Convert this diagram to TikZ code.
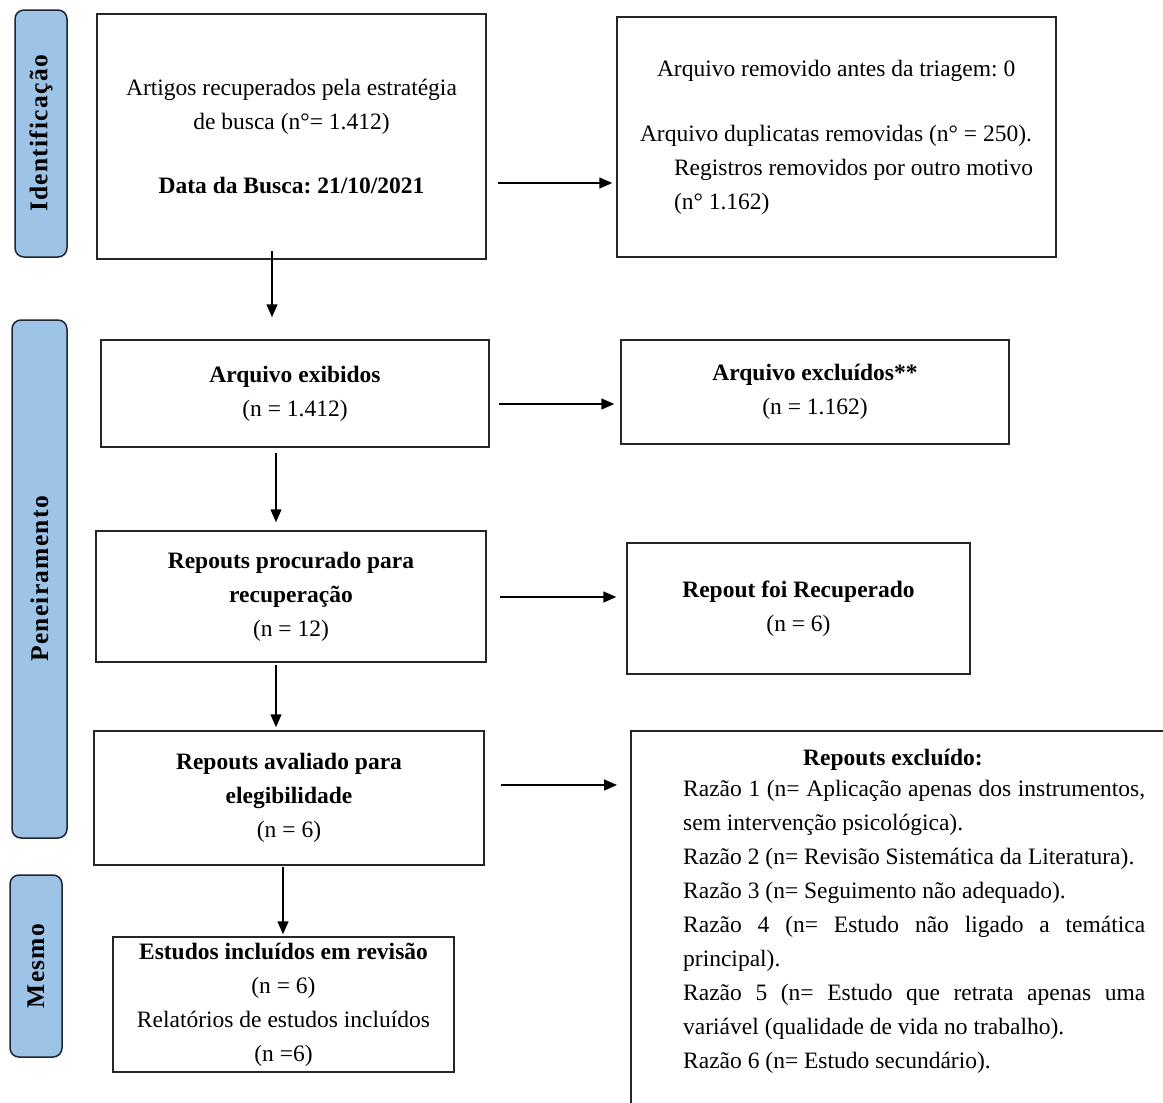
\documentclass[tikz,border=0pt]{standalone}
\usepackage{fontspec}
\setmainfont{Liberation Serif}
\newfontfamily\sidefont[LetterSpace=5]{Liberation Serif}
\usetikzlibrary{arrows.meta}
\definecolor{sidefill}{HTML}{9DC3E6}
\definecolor{sidedraw}{HTML}{1E2633}
\frenchspacing
\tikzset{
  every node/.style={font=\fontsize{23.5}{34}\selectfont, inner sep=0pt},
  box/.style={draw=black!85, line width=1.5pt, align=center},
  side/.style={draw=sidedraw, fill=sidefill, line width=1.5pt, rounded corners=9pt},
  sidetxt/.style={rotate=90, font=\sidefont\fontsize{25.5}{30}\selectfont\bfseries},
  arr/.style={line width=1.5pt, -{Triangle[length=13pt,width=11pt]}}
}
\begin{document}
\begin{tikzpicture}[x=1pt,y=-1pt]
\useasboundingbox (0,0) rectangle (1163,1103);
\clip (0,0) rectangle (1163,1103);
\fill[white] (0,0) rectangle (1163,1103);

% side labels
\node[side, minimum width=52pt, minimum height=247pt] (s1) at (41,133.5) {};
\node[sidetxt] (s1t) at (s1) {Identificação};
\node[side, minimum width=55pt, minimum height=518pt] (s2) at (39.5,579) {};
\node[sidetxt] (s2t) at (s2) {Peneiramento};
\node[side, minimum width=52pt, minimum height=182pt] (s3) at (36,966) {};
\node[sidetxt] (s3t) at (s3) {Mesmo};

% left column
\node[box, minimum width=389pt, minimum height=245pt] (b1) at (291.5,136.5)
  {Artigos recuperados pela estratégia\\ de busca (n°= 1.412)\\[30pt] \textbf{Data da Busca: 21/10/2021}};
\node[box, minimum width=388pt, minimum height=107pt] (b2) at (295,393.5)
  {\textbf{Arquivo exibidos}\\ (n = 1.412)};
\node[box, minimum width=390pt, minimum height=131pt] (b3) at (291,596.5)
  {\textbf{Repouts procurado para}\\ \textbf{recuperação}\\ (n = 12)};
\node[box, minimum width=390pt, minimum height=134pt] (b4) at (289,798)
  {\textbf{Repouts avaliado para}\\ \textbf{elegibilidade}\\ (n = 6)};
\node[box, minimum width=341pt, minimum height=135pt] (b5) at (283.5,1004.5)
  {\textbf{Estudos incluídos em revisão}\\ (n = 6)\\ Relatórios de estudos incluídos\\ (n =6)};

% right column
\node[box, align=left, minimum width=439pt, minimum height=240pt] (r1) at (836.5,137)
  {\hspace*{17pt}Arquivo removido antes da triagem: 0\\[31pt]
   Arquivo duplicatas removidas (n° = 250).\\
   \hspace*{34pt}Registros removidos por outro motivo\\
   \hspace*{34pt}(n° 1.162)};
\node[box, minimum width=388pt, minimum height=104pt] (r2) at (815,392)
  {\textbf{Arquivo excluídos**}\\ (n = 1.162)};
\node[box, minimum width=343pt, minimum height=131pt] (r3) at (798.5,608.5)
  {\textbf{Repout foi Recuperado}\\ (n = 6)};
\node[box, anchor=north west, minimum width=545pt, minimum height=385pt] (r4) at (630,730) {};
\node[font=\fontsize{23.5}{34}\selectfont\bfseries] (r4t) at (893,760) {Repouts excluído:};
\node[anchor=north west, align=left] (r4l) at (683,780)
  {\makebox[462pt][s]{Razão 1 (n= Aplicação apenas dos instrumentos,}\\
   sem intervenção psicológica).\\
   Razão 2 (n= Revisão Sistemática da Literatura).\\
   Razão 3 (n= Seguimento não adequado).\\
   \makebox[462pt][s]{Razão 4 (n= Estudo não ligado a temática}\\
   principal).\\
   \makebox[462pt][s]{Razão 5 (n= Estudo que retrata apenas uma}\\
   variável (qualidade de vida no trabalho).\\
   Razão 6 (n= Estudo secundário).};

% horizontal arrows
\draw[arr, shorten <=11pt, shorten >=4pt] ([yshift=-46.5pt]b1.east) -- ([yshift=-46.5pt]b1.east -| r1.west);
\draw[arr, shorten <=9pt, shorten >=6pt] ([yshift=-10.5pt]b2.east) -- ([yshift=-10.5pt]b2.east -| r2.west);
\draw[arr, shorten <=13pt, shorten >=10pt] ([yshift=-0.5pt]b3.east) -- ([yshift=-0.5pt]b3.east -| r3.west);
\draw[arr, shorten <=16pt, shorten >=13pt] ([yshift=13pt]b4.east) -- ([yshift=13pt]b4.east -| r4.west);

% vertical arrows
\draw[arr, shorten <=-9pt, shorten >=22pt] ([xshift=-19.5pt]b1.south) -- ([xshift=-19.5pt]b1.south |- b2.north);
\draw[arr, shorten <=5pt, shorten >=8pt] ([xshift=-19pt]b2.south) -- ([xshift=-19pt]b2.south |- b3.north);
\draw[arr, shorten <=2pt, shorten >=3pt] ([xshift=-15pt]b3.south) -- ([xshift=-15pt]b3.south |- b4.north);
\draw[arr, shorten <=1pt, shorten >=2pt] ([xshift=-6pt]b4.south) -- ([xshift=-6pt]b4.south |- b5.north);
\end{tikzpicture}
\end{document}
